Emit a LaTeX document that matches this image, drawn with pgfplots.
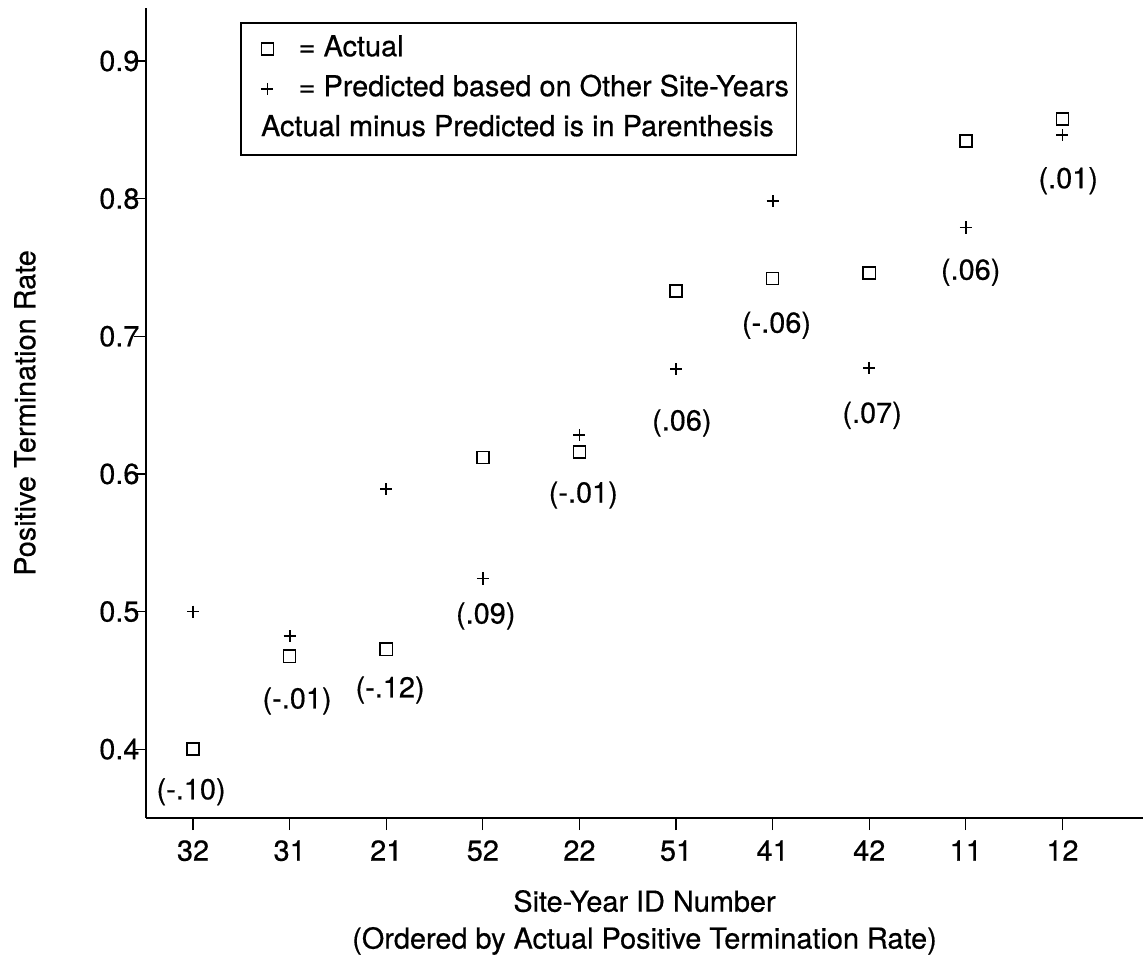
\documentclass[border=0pt]{standalone}
\usepackage{fontspec}
\setmainfont{TeX Gyre Heros}[FakeBold=0.5]
\usepackage{pgfplots}
\usepackage{pgfplotstable}
\pgfplotsset{compat=1.18}

% x = position in the ordering, actual and predicted rates
\pgfplotstableread{
idx actual predicted
0 0.400 0.500
1 0.4675 0.482
2 0.4726 0.589
3 0.612 0.524
4 0.616 0.628
5 0.733 0.676
6 0.742 0.798
7 0.746 0.677
8 0.842 0.779
9 0.858 0.846
}\sitedata

% actual minus predicted, written under each site-year
\pgfplotstableread{
x y lab
-0.02 0.369 (-.10)
1.077 0.435 (-.01)
2.04 0.443 (-.12)
3.03 0.4967 (.09)
4.04 0.5846 (-.01)
5.06 0.637 (.06)
6.04 0.708 (-.06)
7.03 0.6425 (.07)
8.05 0.7465 (.06)
9.06 0.813 (.01)
}\difflabels

\begin{document}
\fontsize{11.5}{14.7}\selectfont
\begin{tikzpicture}
\begin{axis}[
    scale only axis,
    width=13.958cm, height=11.34cm,
    xmin=-0.487, xmax=9.834,
    ymin=0.35, ymax=0.9385,
    axis lines=left,
    axis line style={-, line width=0.9pt},
    tick align=outside,
    major tick length=0.17cm,
    tick style={black, line width=0.5pt},
    xtick={0,...,9},
    xticklabels={32,31,21,52,22,51,41,42,11,12},
    ytick={0.4,0.5,0.6,0.7,0.8,0.9},
    yticklabel style={xshift=0.22cm,
        /pgf/number format/fixed,
        /pgf/number format/fixed zerofill,
        /pgf/number format/precision=1},
    /pgf/number format/assume math mode=true,
    xlabel={Site-Year ID Number\\(Ordered by Actual Positive Termination Rate)},
    xlabel style={align=center, at={(axis description cs:0.5,-0.129)}, anchor=center},
    ylabel={Positive Termination Rate},
    ylabel style={at={(axis description cs:-0.1214,0.5)}, anchor=center},
    legend cell align=left,
    legend image code/.code={
        \path (-0.224cm,0cm) (0.28cm,0cm);
        \draw[#1] plot coordinates {(0.03cm,0cm)};},
    legend style={
        at={(axis description cs:0.0943,0.9827)}, anchor=north west,
        draw=black, line width=0.7pt,
        inner xsep=3pt, inner ysep=4.3pt,
        row sep=3.7pt, column sep=0pt,
        nodes={inner sep=0pt, text height=9pt, text depth=3.2pt},
    },
]
\addplot[only marks, mark=square, mark size=2.4pt,
    mark options={line width=0.6pt}] table[x=idx, y=actual] {\sitedata};
\addlegendentry{\hspace*{5pt}= Actual}
\addplot[only marks, mark=+, mark size=2.4pt,
    mark options={line width=0.7pt}] table[x=idx, y=predicted] {\sitedata};
\addlegendentry{\hspace*{5pt}= Predicted based on Other Site-Years}
\addlegendimage{empty legend}
\addlegendentry{\hspace*{-10pt}Actual minus Predicted is in Parenthesis}

\addplot[only marks, mark=none, forget plot,
    nodes near coords, point meta=explicit symbolic,
    every node near coord/.style={anchor=center}]
    table[x=x, y=y, meta=lab] {\difflabels};
\end{axis}
\pgfresetboundingbox
\path ([shift={(-2.044cm,-1.918cm)}]current axis.south west)
    rectangle ([shift={(0cm,0.112cm)}]current axis.north east);
\end{tikzpicture}
\end{document}
